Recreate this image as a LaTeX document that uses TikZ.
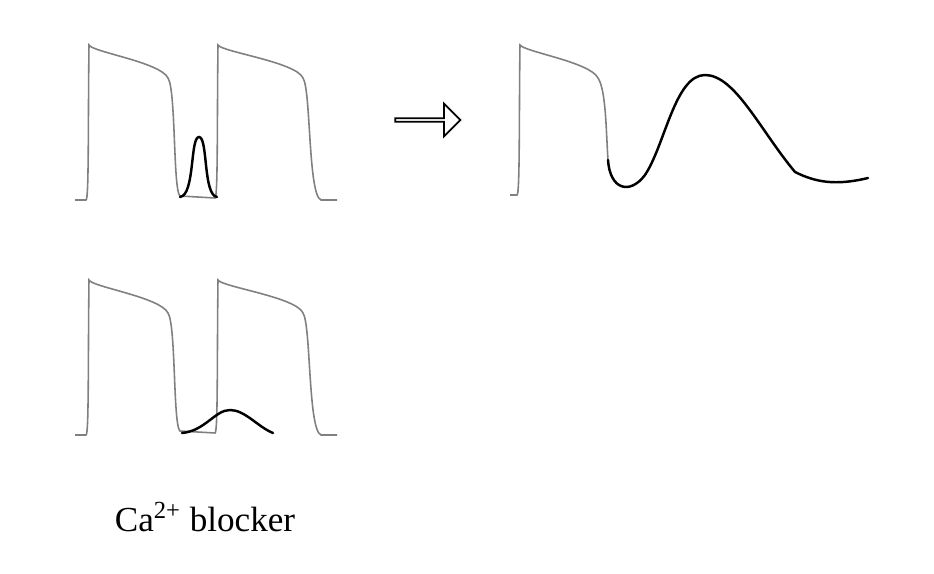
\documentclass[tikz,border=0pt]{standalone}
\usepackage{fontspec}
\setmainfont{Liberation Serif}
\usetikzlibrary{positioning,shapes.arrows}

\tikzset{
  ap/.style={gray, line width=0.9pt},
  ca/.style={black, line width=1.4pt, line cap=round}
}

\begin{document}
\begin{tikzpicture}[x=0.02cm, y=-0.02cm]
\useasboundingbox (0,0) rectangle (934,574);

% top left: paired action potentials
\draw[ap] (75,200) -- (86,200) .. controls (89,200) and (88,120) .. (89,45)
  .. controls (92,52) and (160,62) .. (168,78)
  .. controls (176,90) and (173,190) .. (180,196) -- (215,198)
  .. controls (218,198) and (217,120) .. (218,45)
  .. controls (222,52) and (296,62) .. (303,78)
  .. controls (311,90) and (308,195) .. (321,200) -- (337,200);
\draw[ca] (180,197) .. controls (195,195) and (190,137) .. (199,137)
  .. controls (208,137) and (203,195) .. (217,197);

% arrow
\node[draw, single arrow, line width=1pt, minimum height=1.3cm,
  minimum width=0.65cm, single arrow head extend=0.15cm,
  inner sep=0pt] (arr) at (427,120) {};

% top right: prolonged response
\draw[ap] (510,195) -- (517,195) .. controls (520,195) and (519,110) .. (520,45)
  .. controls (525,52) and (590,62) .. (598,78)
  .. controls (606,90) and (606,130) .. (608,160);
\draw[ca] (608,160) .. controls (610,190) and (630,195) .. (645,175)
  .. controls (665,145) and (675,75) .. (705,75)
  .. controls (735,75) and (760,130) .. (795,172)
  .. controls (815,182) and (835,186) .. (868,178);

% bottom: with blocker
\begin{scope}[yshift=-235*0.02cm]
\draw[ap] (75,200) -- (86,200) .. controls (89,200) and (88,120) .. (89,45)
  .. controls (92,52) and (160,62) .. (168,78)
  .. controls (176,90) and (173,190) .. (180,196) -- (215,198)
  .. controls (218,198) and (217,120) .. (218,45)
  .. controls (222,52) and (296,62) .. (303,78)
  .. controls (311,90) and (308,195) .. (321,200) -- (337,200);
\draw[ca] (182,198) .. controls (205,196) and (215,175) .. (230,175)
  .. controls (245,175) and (258,192) .. (273,198);
\end{scope}

\node[font=\fontsize{20}{24}\selectfont] (lbl) at (205,517) {Ca\textsuperscript{2+} blocker};
\end{tikzpicture}
\end{document}
